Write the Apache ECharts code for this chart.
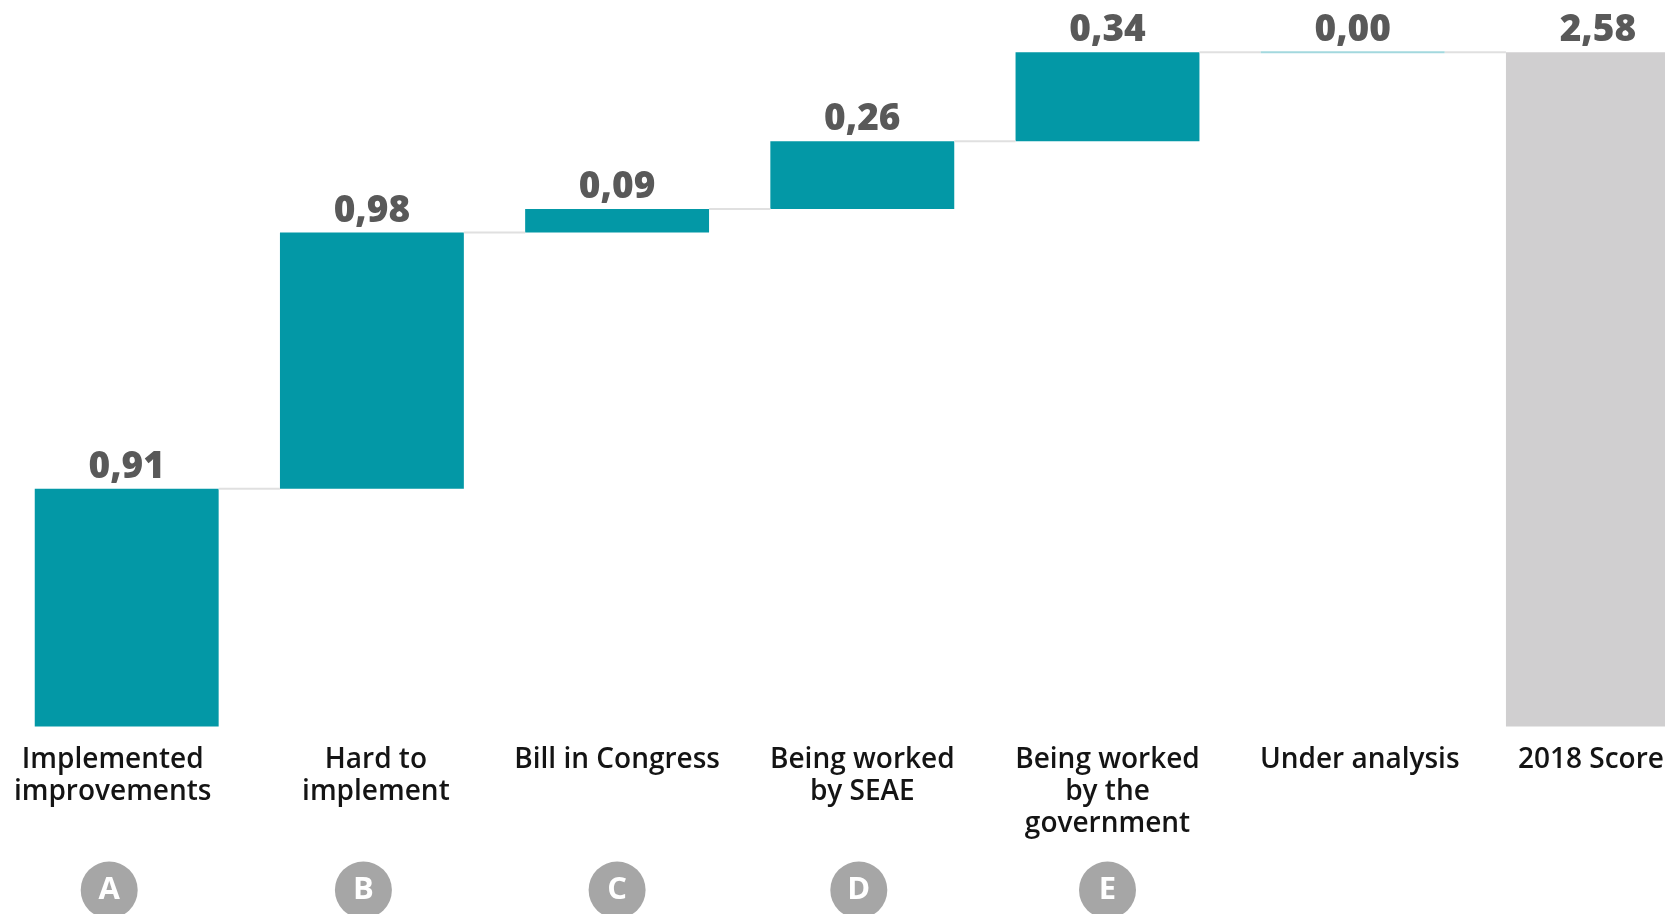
<!DOCTYPE html>
<html><head><meta charset="utf-8">
<script src="https://cdn.jsdelivr.net/npm/echarts@6/dist/echarts.min.js"></script>
<style>html,body{margin:0;padding:0;background:#fff;overflow:hidden}#c{width:1665px;height:914px}</style>
</head><body><div id="c"></div>
<script>
const categories = ['Implemented\nimprovements', 'Hard to\nimplement', 'Bill in Congress', 'Being worked\nby SEAE', 'Being worked\nby the\ngovernment', 'Under analysis', '2018 Score'];
const steps = [0.91, 0.98, 0.09, 0.26, 0.34, 0.00];
const total = 2.58;
const badges = ['A', 'B', 'C', 'D', 'E', '', ''];

const base = [];
const levels = [];
let run = 0;
steps.forEach(v => { base.push(run); run += v; levels.push(+run.toFixed(2)); });
base.push(0);
const values = steps.concat([{ value: total, itemStyle: { color: '#d0cfd0' } }]);
const connectorData = levels.map((l, i) => [i, l, steps[i]]);

// small horizontal nudges of the text under some columns (style only)
const labelPad = { 0: [0, 28, 0, 0], 1: [0, 0, 0, 8], 5: [0, 0, 0, 14], 6: [0, 14, 0, 0] };
const badgeShift = { 0: 35, 1: 17, 3: 7 };
const xData = categories.map((c, i) => labelPad[i] ? { value: c, textStyle: { padding: labelPad[i] } } : c);

const chart = echarts.init(document.getElementById('c'), null, { renderer: 'canvas' });
chart.setOption({
  animation: false,
  backgroundColor: '#ffffff',
  grid: { left: 4.1, width: 1716.4, top: 52.3, bottom: 187.5, containLabel: false, outerBoundsMode: 'none' },
  xAxis: [{
    type: 'category', data: xData,
    axisLine: { show: false }, axisTick: { show: false }, splitLine: { show: false },
    axisLabel: { interval: 0, margin: 18, fontSize: 28, lineHeight: 32, fontWeight: 600, color: '#141414', fontFamily: 'Open Sans' }
  }, {
    type: 'category', data: badges, position: 'bottom', gridIndex: 0,
    axisLine: { show: false }, axisTick: { show: false }, splitLine: { show: false },
    axisLabel: {
      interval: 0, margin: 135,
      formatter: (v, i) => v ? ('{c|' + v + '}' + (badgeShift[i] ? '{s' + i + '|}' : '')) : '',
      rich: {
        c: { width: 57, height: 57, lineHeight: 57, borderRadius: 28.5, backgroundColor: '#a6a6a6', color: '#ffffff', fontSize: 31, fontWeight: 'bold', fontFamily: 'Open Sans', align: 'center' },
        s0: { width: badgeShift[0], height: 57 },
        s1: { width: badgeShift[1], height: 57 },
        s3: { width: badgeShift[3], height: 57 }
      }
    }
  }],
  yAxis: { type: 'value', min: 0, max: 2.58, show: false, splitLine: { show: false } },
  series: [{
    type: 'bar', stack: 'w', data: base, barWidth: '75%', silent: true,
    itemStyle: { color: 'transparent' }
  }, {
    type: 'bar', stack: 'w', data: values, barWidth: '75%',
    itemStyle: { color: '#0398a6' },
    label: {
      show: true, position: 'top', distance: 3, fontSize: 37, fontWeight: 800, color: '#595959', fontFamily: 'Open Sans',
      formatter: p => Number(p.value).toFixed(2).replace('.', ',')
    }
  }, {
    type: 'custom', data: connectorData, silent: true, z: 5,
    renderItem: (params, api) => {
      const i = api.value(0), lvl = api.value(1), st = api.value(2);
      const p = api.coord([i, lvl]);
      const w = api.size([1, 0])[0];
      const bw = w * 0.75;
      const children = [{ type: 'line', shape: { x1: p[0] + bw / 2, y1: p[1], x2: p[0] + w - bw / 2, y2: p[1] }, style: { stroke: '#e0e0e0', lineWidth: 2 } }];
      if (st === 0) children.push({ type: 'line', shape: { x1: p[0] - bw / 2, y1: p[1], x2: p[0] + bw / 2, y2: p[1] }, style: { stroke: '#a3d8de', lineWidth: 2 } });
      return { type: 'group', children };
    }
  }]
});
</script></body></html>
